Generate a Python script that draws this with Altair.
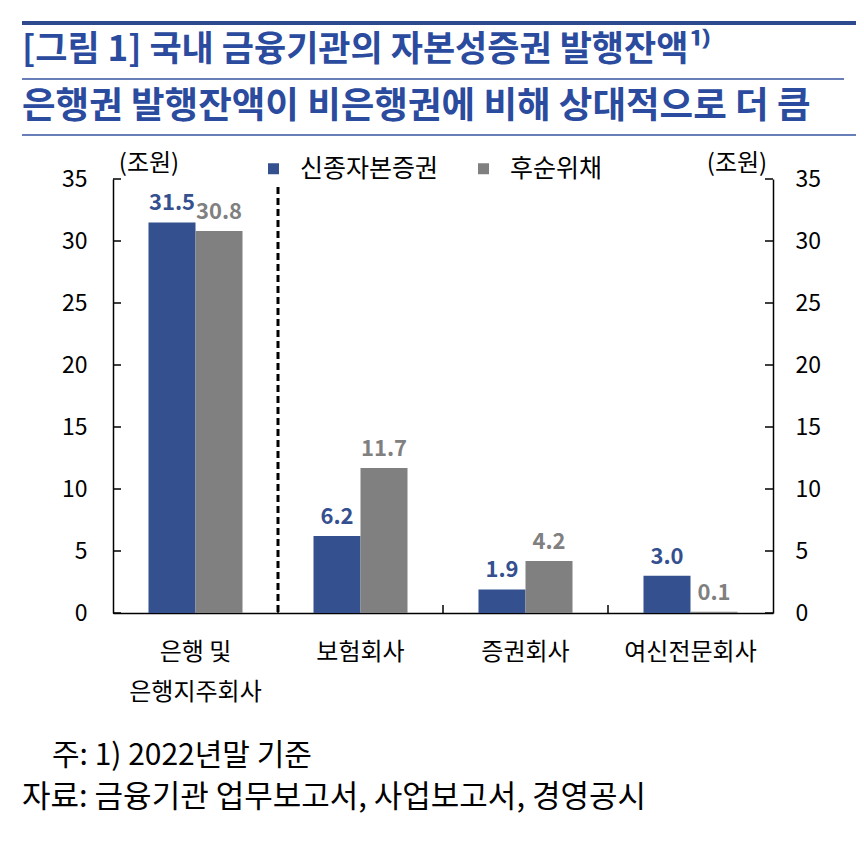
import altair as alt
import pandas as pd

# ---------------- data ----------------
categories = ["은행 및 은행지주회사", "보험회사", "증권회사", "여신전문회사"]
series = ["신종자본증권", "후순위채"]
hybrid = [31.5, 6.2, 1.9, 3.0]          # 신종자본증권
subordinated = [30.8, 11.7, 4.2, 0.1]   # 후순위채
y_ticks = [0, 5, 10, 15, 20, 25, 30, 35]

title1 = "[그림 1] 국내 금융기관의 자본성증권 발행잔액¹⁾"
title2 = "은행권 발행잔액이 비은행권에 비해 상대적으로 더 큼"
unit = "(조원)"
note1 = "주: 1) 2022년말 기준"
note2 = "자료: 금융기관 업무보고서, 사업보고서, 경영공시"

colors = ["#34508F", "#808080"]
TITLE_BLUE = "#2B4B9E"
RULE_BLUE = "#3553A0"
FONT = "Noto Sans CJK KR"

rows = []
for c, a, b in zip(categories, hybrid, subordinated):
    rows.append({"cat": c, "series": series[0], "value": a, "label": f"{a:.1f}"})
    rows.append({"cat": c, "series": series[1], "value": b, "label": f"{b:.1f}"})
df = pd.DataFrame(rows)

W, H = 660, 434

xscale = alt.Scale(domain=categories, paddingInner=0, paddingOuter=0)
offscale = alt.Scale(domain=series, paddingInner=0, paddingOuter=0.755)
yscale = alt.Scale(domain=[0, 35], nice=False, zero=True)
cscale = alt.Scale(domain=series, range=colors)

label_expr = (
    f"datum.value == '{categories[0]}' ? ['은행 및', '은행지주회사'] : datum.label"
)

x_axis = alt.Axis(
    title=None, labelAngle=0, ticks=False, domainColor="black", domainWidth=1.5,
    labelFont=FONT, labelFontSize=24, labelColor="black", labelPadding=27,
    labelLineHeight=40, labelExpr=label_expr, labelLimit=300,
)

bars = alt.Chart(df).mark_bar().encode(
    x=alt.X("cat:N", scale=xscale, axis=x_axis, sort=categories),
    xOffset=alt.XOffset("series:N", scale=offscale, sort=series),
    y=alt.Y(
        "value:Q", scale=yscale,
        axis=alt.Axis(
            orient="left", values=y_ticks, ticks=False, grid=False,
            domainColor="black", domainWidth=1.5, labelFont=FONT,
            labelFontSize=23, labelColor="black", labelPadding=26, title=None,
        ),
    ),
    color=alt.Color(
        "series:N", scale=cscale,
        legend=alt.Legend(
            orient="none", legendX=148, legendY=-23, direction="horizontal",
            title=None, symbolType="square", symbolSize=121,
            symbolStrokeWidth=0, symbolOpacity=1, labelFontSize=25,
            labelFont=FONT, labelColor="black", labelOffset=14,
            columnPadding=32,
        ),
    ),
)

labels = alt.Chart(df).mark_text(
    baseline="bottom", dy=-7, font=FONT, fontSize=22, fontWeight="bold"
).encode(
    x=alt.X("cat:N", scale=xscale, axis=None, sort=categories),
    xOffset=alt.XOffset("series:N", scale=offscale, sort=series),
    y=alt.Y(
        "value:Q", scale=yscale,
        axis=alt.Axis(
            orient="right", values=y_ticks, ticks=False, grid=False,
            domainColor="black", domainWidth=1.5, labelFont=FONT,
            labelFontSize=23, labelColor="black", labelPadding=22, title=None,
        ),
    ),
    text="label:N",
    color=alt.Color("series:N", scale=cscale, legend=None),
)

tick_df = pd.DataFrame({"tick": y_ticks})
left_ticks = alt.Chart(tick_df).mark_rule(color="black", strokeWidth=1.5).encode(
    x=alt.value(0), x2=alt.value(8), y=alt.Y("tick:Q", scale=yscale, axis=None)
)
right_ticks = alt.Chart(tick_df).mark_rule(color="black", strokeWidth=1.5).encode(
    x=alt.value(W - 8), x2=alt.value(W), y=alt.Y("tick:Q", scale=yscale, axis=None)
)

bound_df = pd.DataFrame({"cat": categories[1:]})
bottom_ticks = alt.Chart(bound_df).mark_rule(color="black", strokeWidth=1.5).encode(
    x=alt.X("cat:N", scale=xscale, axis=None, bandPosition=0),
    y=alt.value(H - 8), y2=alt.value(H),
)

sep_df = pd.DataFrame({"cat": categories[:1]})
separator = alt.Chart(sep_df).mark_rule(
    color="black", strokeWidth=3, strokeDash=[7, 4]
).encode(
    x=alt.X("cat:N", scale=xscale, axis=None, bandPosition=1),
    y=alt.value(8), y2=alt.value(H),
)


def text_layer(txt, x, y, size, color="black", weight="normal", align="left"):
    return alt.Chart(pd.DataFrame({"t": [txt]})).mark_text(
        align=align, baseline="middle", font=FONT, fontSize=size,
        fontWeight=weight, color=color,
    ).encode(x=alt.value(x), y=alt.value(y), text="t:N")


def hrule(x1, x2, y, width, color):
    return alt.Chart(pd.DataFrame({"r": [0]})).mark_rule(
        color=color, strokeWidth=width
    ).encode(x=alt.value(x1), x2=alt.value(x2), y=alt.value(y))


annotations = [
    hrule(-91, 760, -156, 4, "#2E4A8E"),
    hrule(-91, 731, -100, 1.5, RULE_BLUE),
    hrule(-91, 760, -44, 1.5, RULE_BLUE),
    text_layer(title1, -91, -129, 35, TITLE_BLUE, "bold"),
    text_layer(title2, -91, -72, 36.5, TITLE_BLUE, "bold"),
    text_layer(unit, 36, -15, 24, align="center"),
    text_layer(unit, 624, -15, 24, align="center"),
    text_layer(note1, -61, 577, 30),
    text_layer(note2, -91, 619, 31),
]

chart = alt.layer(
    bars, labels, left_ticks, right_ticks, bottom_ticks, separator, *annotations
).resolve_axis(x="independent", y="independent").properties(
    width=W, height=H,
    padding={"left": 105, "top": 171, "right": 83, "bottom": 223},
    autosize=alt.AutoSizeParams(type="none"),
).configure_view(stroke=None)

chart.save("out.html", embed_options={"renderer": "svg", "actions": False})
